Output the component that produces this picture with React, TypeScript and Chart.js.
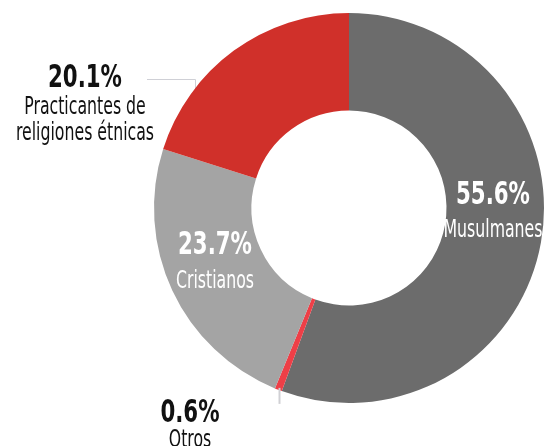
import React, { useEffect, useRef } from "react";
import { Chart, registerables } from "chart.js";

Chart.register(...registerables);

// ---- data ----
const categories = ["Musulmanes", "Otros", "Cristianos", "Practicantes de religiones étnicas"];
const shares = [55.6, 0.6, 23.7, 20.1];
const valueLabels = ["55.6%", "0.6%", "23.7%", "20.1%"];
const nameLines = [["Musulmanes"], ["Otros"], ["Cristianos"], ["Practicantes de", "religiones étnicas"]];

// ---- style ----
const colors = ["#6c6c6c", "#ee3f47", "#a4a4a4", "#d0302a"];
const NARROW = "'DejaVu Sans Condensed', 'DejaVu Sans', sans-serif";

type LabelSpec = {
  x: number;
  valueY: number;
  nameY: number[];
  color: string;
};

const labelSpecs: LabelSpec[] = [
  { x: 493, valueY: 204, nameY: [237], color: "#ffffff" },
  { x: 190, valueY: 422, nameY: [447], color: "#111111" },
  { x: 215, valueY: 254, nameY: [288], color: "#ffffff" },
  { x: 85, valueY: 87, nameY: [114, 140], color: "#111111" },
];

function drawScaled(
  ctx: CanvasRenderingContext2D,
  text: string,
  x: number,
  y: number,
  font: string,
  scaleX: number,
  color: string
) {
  ctx.save();
  ctx.translate(x, y);
  ctx.scale(scaleX, 1);
  ctx.font = font;
  ctx.fillStyle = color;
  ctx.textAlign = "center";
  ctx.textBaseline = "alphabetic";
  ctx.fillText(text, 0, 0);
  ctx.restore();
}

const leaderPlugin = {
  id: "leaders",
  beforeDatasetsDraw(chart: any) {
    const ctx = chart.ctx as CanvasRenderingContext2D;
    ctx.save();
    ctx.strokeStyle = "#cfd0d6";
    ctx.lineWidth = 1;
    ctx.beginPath();
    ctx.moveTo(147, 79.5);
    ctx.lineTo(195.5, 79.5);
    ctx.lineTo(195.5, 130);
    ctx.stroke();
    ctx.restore();
  },
  afterDatasetsDraw(chart: any) {
    const ctx = chart.ctx as CanvasRenderingContext2D;
    const meta = chart.getDatasetMeta(0);
    const arc = meta.data[1];
    if (arc) {
      const p = arc.getProps(["x", "y", "startAngle", "endAngle", "outerRadius"], true);
      const mid = (p.startAngle + p.endAngle) / 2;
      const ox = p.x + Math.cos(mid) * (p.outerRadius - 2);
      const oy = p.y + Math.sin(mid) * (p.outerRadius - 2);
      ctx.save();
      ctx.strokeStyle = "#d0d0d4";
      ctx.lineWidth = 2;
      ctx.beginPath();
      ctx.moveTo(Math.round(ox) + 0.5, oy);
      ctx.lineTo(Math.round(ox) + 0.5, oy + 16);
      ctx.stroke();
      ctx.restore();
    }
  },
  afterDraw(chart: any) {
    const ctx = chart.ctx as CanvasRenderingContext2D;
    labelSpecs.forEach((s, i) => {
      drawScaled(ctx, valueLabels[i], s.x, s.valueY, `bold 32px ${NARROW}`, 0.74, s.color);
      nameLines[i].forEach((line, j) => {
        drawScaled(ctx, line, s.x, s.nameY[j], `25px ${NARROW}`, 0.7, s.color);
      });
    });
  },
};

export default function App() {
  const ref = useRef<HTMLCanvasElement | null>(null);

  useEffect(() => {
    document.body.style.margin = "0";
    document.body.style.background = "#ffffff";
    if (!ref.current) return;
    const chart = new Chart(ref.current, {
      type: "doughnut",
      data: {
        labels: categories,
        datasets: [
          {
            data: shares,
            backgroundColor: colors,
            borderWidth: 0,
          },
        ],
      },
      options: {
        responsive: false,
        animation: false,
        cutout: "50%",
        rotation: 0,
        layout: { padding: { left: 154, right: 0, top: 13, bottom: 43 } },
        plugins: {
          legend: { display: false },
          tooltip: { enabled: false },
        },
      },
      plugins: [leaderPlugin],
    });
    return () => chart.destroy();
  }, []);

  return (
    <div style={{ position: "fixed", left: 0, top: 0, width: 544, height: 446, background: "#fff" }}>
      <canvas ref={ref} width={544} height={446} />
    </div>
  );
}
